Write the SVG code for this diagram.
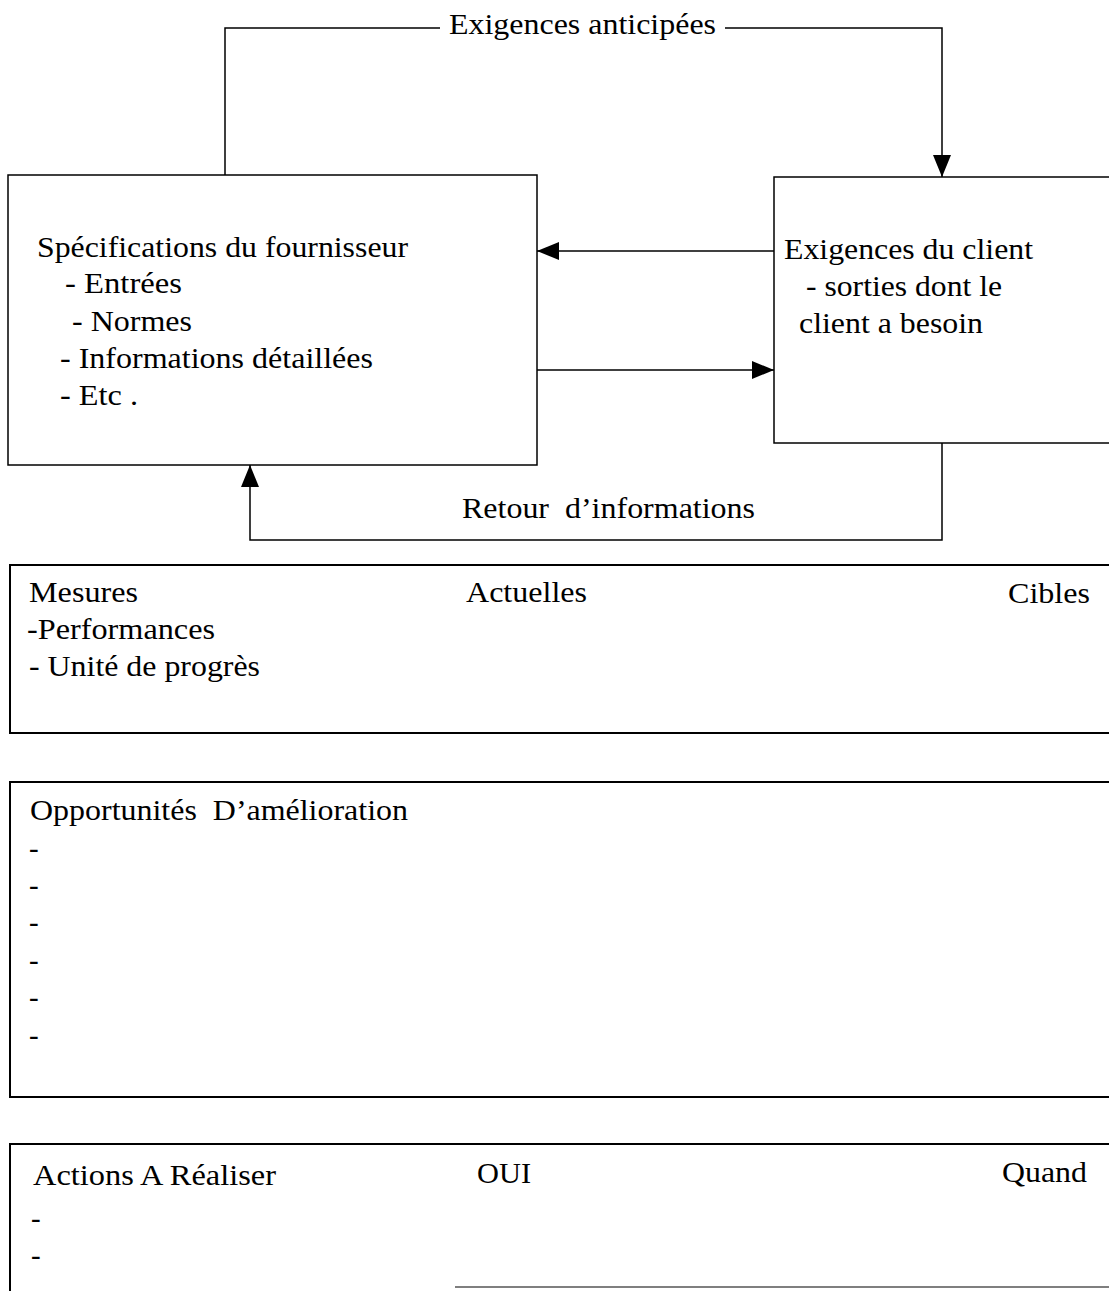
<svg xmlns="http://www.w3.org/2000/svg" width="1109" height="1291" viewBox="0 0 1109 1291">
  <style>
    text { font-family: "Liberation Serif", "Times New Roman", serif; font-size: 29px; fill: #000; }
    .box { fill: none; stroke: #000; stroke-width: 1.5; }
    .panel { fill: none; stroke: #000; stroke-width: 2; }
    .link { fill: none; stroke: #000; stroke-width: 1.5; }
  </style>
  <defs>
    <marker id="arrow" viewBox="0 0 22 18" refX="22" refY="9" markerWidth="22" markerHeight="18" markerUnits="userSpaceOnUse" orient="auto">
      <path d="M0,0 L22,9 L0,18 Z" fill="#000"/>
    </marker>
  </defs>
  <rect width="1109" height="1291" fill="#fff"/>

  <!-- connectors between supplier and customer -->
  <g id="connectors">
    <path class="link" d="M225,175 V28 H440 M725,28 H942 V177" marker-end="url(#arrow)"/>
    <text x="449" y="34" textLength="267" lengthAdjust="spacingAndGlyphs">Exigences anticipées</text>
    <path class="link" d="M774,251 H537" marker-end="url(#arrow)"/>
    <path class="link" d="M537,370 H774" marker-end="url(#arrow)"/>
    <path class="link" d="M942,443 V540 H250 V465" marker-end="url(#arrow)"/>
    <text x="462" y="518" textLength="293" lengthAdjust="spacingAndGlyphs" xml:space="preserve">Retour  d’informations</text>
  </g>

  <!-- supplier specifications -->
  <g id="supplier">
    <rect class="box" x="8" y="175" width="529" height="290"/>
    <text x="37" y="257" textLength="371" lengthAdjust="spacingAndGlyphs">Spécifications du fournisseur</text>
    <text x="65" y="293" textLength="117" lengthAdjust="spacingAndGlyphs">- Entrées</text>
    <text x="72" y="331" textLength="120" lengthAdjust="spacingAndGlyphs">- Normes</text>
    <text x="60" y="368" textLength="313" lengthAdjust="spacingAndGlyphs">- Informations détaillées</text>
    <text x="60" y="405" textLength="78" lengthAdjust="spacingAndGlyphs">- Etc .</text>
  </g>

  <!-- customer requirements -->
  <g id="customer">
    <rect class="box" x="774" y="177" width="345" height="266"/>
    <text x="784" y="259" textLength="249" lengthAdjust="spacingAndGlyphs">Exigences du client</text>
    <text x="806" y="296" textLength="196" lengthAdjust="spacingAndGlyphs">- sorties dont le</text>
    <text x="799" y="333" textLength="184" lengthAdjust="spacingAndGlyphs">client a besoin</text>
  </g>

  <!-- measures panel -->
  <g id="measures">
    <rect class="panel" x="10" y="565" width="1110" height="168"/>
    <text x="29" y="602" textLength="109" lengthAdjust="spacingAndGlyphs">Mesures</text>
    <text x="466" y="602" textLength="121" lengthAdjust="spacingAndGlyphs">Actuelles</text>
    <text x="1008" y="603" textLength="82" lengthAdjust="spacingAndGlyphs">Cibles</text>
    <text x="27" y="639" textLength="188" lengthAdjust="spacingAndGlyphs">-Performances</text>
    <text x="29" y="676" textLength="231" lengthAdjust="spacingAndGlyphs">- Unité de progrès</text>
  </g>

  <!-- improvement opportunities panel -->
  <g id="opportunities">
    <rect class="panel" x="10" y="782" width="1110" height="315"/>
    <text x="30" y="820" textLength="378" lengthAdjust="spacingAndGlyphs" xml:space="preserve">Opportunités  D’amélioration</text>
    <text x="29" y="858">-</text>
    <text x="29" y="895">-</text>
    <text x="29" y="932">-</text>
    <text x="29" y="970">-</text>
    <text x="29" y="1007">-</text>
    <text x="29" y="1045">-</text>
  </g>

  <!-- actions panel -->
  <g id="actions">
    <path class="panel" d="M1120,1144 H10 V1291"/>
    <path d="M455,1287 H1109" stroke="#555" stroke-width="1.5" fill="none"/>
    <text x="33" y="1185" textLength="243" lengthAdjust="spacingAndGlyphs">Actions A Réaliser</text>
    <text x="477" y="1183" textLength="54" lengthAdjust="spacingAndGlyphs">OUI</text>
    <text x="1002" y="1182" textLength="85" lengthAdjust="spacingAndGlyphs">Quand</text>
    <text x="31" y="1228">-</text>
    <text x="31" y="1265">-</text>
  </g>
</svg>
